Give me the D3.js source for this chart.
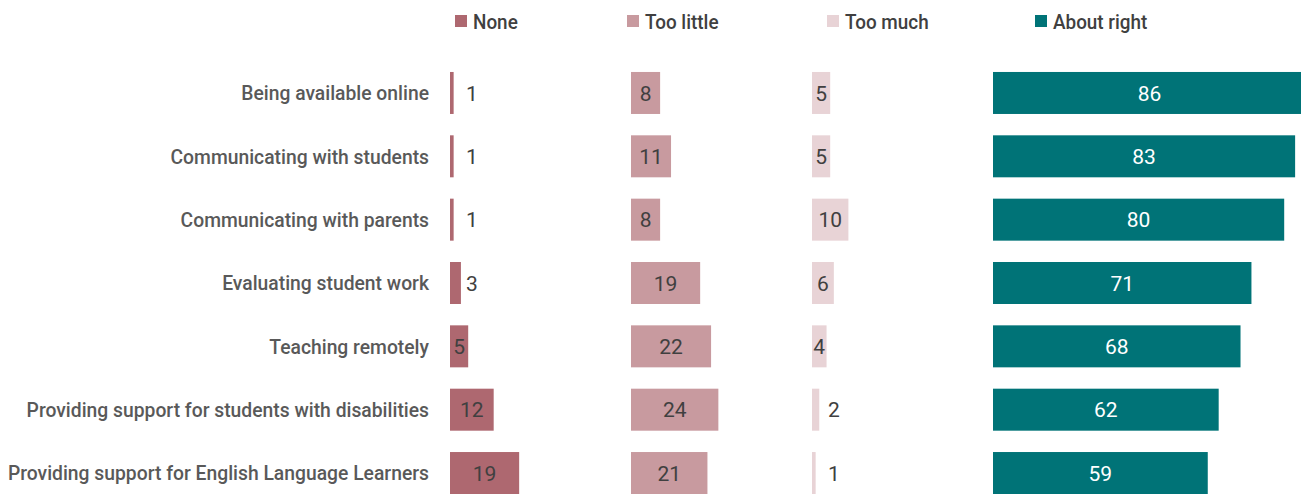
<!DOCTYPE html>
<html>
<head>
<meta charset="utf-8">
<script src="https://cdn.jsdelivr.net/npm/d3@7"></script>
<style>
  html, body { margin: 0; padding: 0; background: #fff; overflow: hidden; }
  svg { display: block; }
</style>
</head>
<body>
<svg id="chart" width="1301" height="494"></svg>
<script>
// Survey responses: how much time teachers spent on each activity (%)
const categories = [
  "Being available online",
  "Communicating with students",
  "Communicating with parents",
  "Evaluating student work",
  "Teaching remotely",
  "Providing support for students with disabilities",
  "Providing support for English Language Learners"
];
const seriesNames = ["None", "Too little", "Too much", "About right"];
const none       = [1, 1, 1, 3, 5, 12, 19];
const tooLittle  = [8, 11, 8, 19, 22, 24, 21];
const tooMuch    = [5, 5, 10, 6, 4, 2, 1];
const aboutRight = [86, 83, 80, 71, 68, 62, 59];
const seriesValues = [none, tooLittle, tooMuch, aboutRight];
const seriesColors = ["#ae6870", "#c89a9f", "#e8d3d6", "#007377"];
const labelColors  = ["#404040", "#404040", "#404040", "#ffffff"];

// narrow label face: Roboto squeezed horizontally
const narrowFont = "Roboto, 'Liberation Sans', sans-serif";
const squeeze = 0.92;

const svg = d3.select("#chart");

// one panel per response option, laid side by side
const panel = d3.scaleBand().domain(seriesNames).range([450, 1174]);
const x = d3.scaleLinear().domain([0, 100]).range([0, 364]);
const y = d3.scaleBand().domain(categories).range([61.3, 504.7]).paddingInner(0.337).paddingOuter(0.1685);

// category labels
svg.append("g").selectAll("text").data(categories).join("text")
  .attr("transform", d => `translate(429,${y(d) + y.bandwidth() / 2}) scale(${squeeze},1)`)
  .attr("dy", "0.35em")
  .attr("text-anchor", "end")
  .attr("font-family", narrowFont)
  .attr("font-weight", 500)
  .attr("font-size", 21)
  .attr("fill", "#595959")
  .text(d => d);

seriesNames.forEach((name, si) => {
  const g = svg.append("g").attr("transform", `translate(${panel(name)},0)`);
  const rows = categories.map((c, i) => ({ c, v: seriesValues[si][i] }));
  g.selectAll("rect").data(rows).join("rect")
    .attr("x", 0)
    .attr("y", d => y(d.c))
    .attr("width", d => x(d.v))
    .attr("height", y.bandwidth())
    .attr("fill", seriesColors[si]);
  // small values get their label just past the bar, others are centred inside
  g.selectAll("text").data(rows).join("text")
    .attr("x", d => d.v >= 4 ? x(d.v) / 2 : x(6))
    .attr("y", d => y(d.c) + y.bandwidth() / 2)
    .attr("dy", "0.36em")
    .attr("text-anchor", "middle")
    .attr("font-family", "Roboto, sans-serif")
    .attr("font-size", 21)
    .attr("fill", d => d.v >= 4 ? labelColors[si] : "#404040")
    .text(d => d.v);
});

// legend
const legendX = [455, 627, 827, 1035];
const legend = svg.append("g").selectAll("g").data(seriesNames).join("g")
  .attr("transform", (d, i) => `translate(${legendX[i]},15)`);
legend.append("rect")
  .attr("width", 12).attr("height", 12)
  .attr("fill", (d, i) => seriesColors[i]);
legend.append("text")
  .attr("transform", `translate(18,6) scale(0.9,1)`)
  .attr("dy", "0.36em")
  .attr("font-family", narrowFont)
  .attr("font-weight", 500)
  .attr("font-size", 21)
  .attr("fill", "#404040")
  .text(d => d);
</script>
</body>
</html>
